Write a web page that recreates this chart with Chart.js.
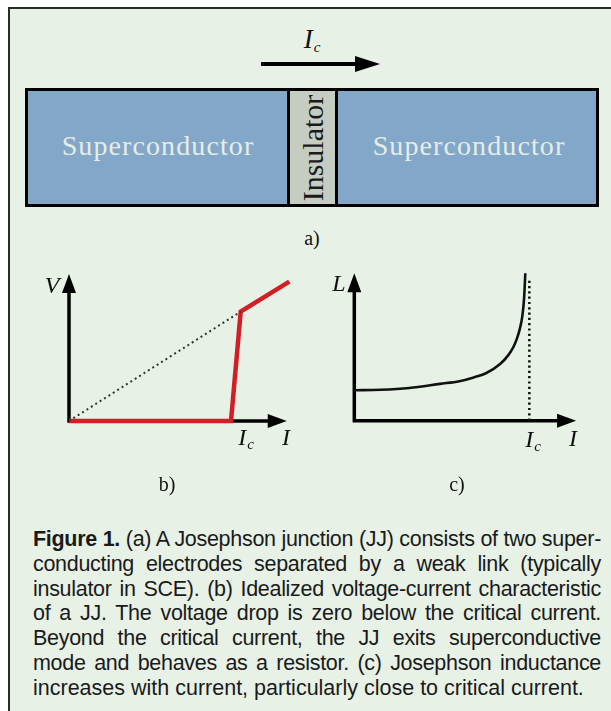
<!DOCTYPE html>
<html lang="en">
<head>
    <meta charset="UTF-8">
    <title>Josephson junction</title>
    <script src="https://cdn.jsdelivr.net/npm/chart.js"></script>
    <style>
        body { margin: 0; width: 611px; height: 711px; overflow: hidden; background: #fff; position: relative; }
        .panel { position: absolute; left: 8px; top: 7px; width: 640px; height: 740px; background: #e7f1e6;
                 border-left: 2px solid #2b2b2b; border-top: 2px solid #2b2b2b; }
        .abs { position: absolute; }
        .junction { position: absolute; left: 25px; top: 88px; width: 574px; height: 119px; box-sizing: border-box;
                    border: 3px solid #000; background: #83a7c8; }
        .insulator { position: absolute; left: 259px; top: 0; width: 51px; height: 113px; box-sizing: border-box;
                     border-left: 3px solid #000; border-right: 3px solid #000; background: #c5cdc2; }
        .sc { position: absolute; top: 41px; font-family: "Liberation Serif", serif; font-size: 28px; letter-spacing: 1.1px;
              color: #e6ede6; line-height: 1; transform: translateX(-50%); white-space: nowrap; }
        .ins { position: absolute; left: 50%; top: 50%; transform: translate(-50%, -50%) rotate(-90deg);
               font-family: "Liberation Serif", serif; font-size: 30px; color: #1a1a1a; line-height: 1; white-space: nowrap; }
        .lab { position: absolute; font-family: "Liberation Serif", serif; font-style: italic; font-size: 24px;
               line-height: 1; transform: translate(-50%, -50%); white-space: nowrap; color: #111; }
        .lab sub { font-size: 15px; vertical-align: -4px; margin-left: 1px; }
        .tag { position: absolute; font-family: "Liberation Serif", serif; font-size: 20px; line-height: 1;
               transform: translate(-50%, -50%); color: #111; }
        .caption { position: absolute; left: 33px; top: 527px; width: 568px; font-family: "Liberation Sans", Arial, sans-serif;
                   font-size: 21.5px; line-height: 24.8px; color: #1a1a1a; }
        .caption div { text-align: justify; text-align-last: justify; white-space: nowrap; letter-spacing: -0.3px; }
        .caption div.last { text-align-last: left; letter-spacing: 0; }
        canvas { position: absolute; }
    </style>
</head>
<body>
<div class="panel"></div>

<!-- (a) junction sketch -->
<div class="abs" style="left:261px; top:62px; width:96px; height:3.5px; background:#000;"></div>
<div class="abs" style="left:355px; top:55.5px; width:0; height:0; border-left:25px solid #000; border-top:8px solid transparent; border-bottom:8px solid transparent;"></div>
<div class="lab" style="left:312px; top:40px; font-size:27px;">I<sub>c</sub></div>
<div class="junction">
    <div class="sc" style="left:130px;">Superconductor</div>
    <div class="sc" style="left:441px;">Superconductor</div>
    <div class="insulator"><div class="ins">Insulator</div></div>
</div>
<div class="tag" style="left:312px; top:238px;">a)</div>

<!-- (b) and (c) -->
<canvas id="chartIV" width="305" height="185" style="left:0; top:250px;"></canvas>
<canvas id="chartL" width="296" height="185" style="left:315px; top:250px;"></canvas>

<div class="lab" style="left:52px; top:285px;">V</div>
<div class="lab" style="left:246px; top:438px;">I<sub>c</sub></div>
<div class="lab" style="left:286px; top:437px;">I</div>
<div class="tag" style="left:167px; top:484px;">b)</div>

<div class="lab" style="left:339px; top:283px;">L</div>
<div class="lab" style="left:533px; top:440px;">I<sub>c</sub></div>
<div class="lab" style="left:573px; top:438px;">I</div>
<div class="tag" style="left:457px; top:484px;">c)</div>

<div class="caption">
    <div><b>Figure 1.</b> (a) A Josephson junction (JJ) consists of two super-</div>
    <div>conducting electrodes separated by a weak link (typically</div>
    <div>insulator in SCE). (b) Idealized voltage-current characteristic</div>
    <div>of a JJ. The voltage drop is zero below the critical current.</div>
    <div>Beyond the critical current, the JJ exits superconductive</div>
    <div>mode and behaves as a resistor. (c) Josephson inductance</div>
    <div class="last">increases with current, particularly close to critical current.</div>
</div>

<script>
    // (b) current in units of Ic, voltage in arbitrary units
    const ivCurrent = [0, 1, 1.06, 1.36];
    const ivVoltage = [0, 0, 0.744, 0.948];
    const ohmicCurrent = [0, 1.06];
    const ohmicVoltage = [0, 0.744];
    const ivAxisEnd = { x: 1.344, y: 1.0 };

    // (c) Josephson inductance vs current
    const lCurrent = [0, 0.15, 0.314, 0.49, 0.6, 0.678, 0.752, 0.833, 0.88, 0.909, 0.93, 0.947, 0.96, 0.97, 0.977];
    const lInductance = [0.207, 0.21, 0.222, 0.25, 0.268, 0.292, 0.322, 0.385, 0.445, 0.5, 0.56, 0.63, 0.71, 0.83, 1.0];
    const criticalCurrent = [1, 1];
    const criticalLevel = [0, 0.97];
    const lAxisEnd = { x: 1.267, y: 1.0 };

    function pts(xs, ys) {
        return xs.map((x, i) => ({ x: x, y: ys[i] }));
    }

    // draws the two axes with arrow heads from the origin of the scales
    const axisArrows = {
        id: 'axisArrows',
        beforeDatasetsDraw(chart, args, opts) {
            const ctx = chart.ctx;
            const sx = chart.scales.x, sy = chart.scales.y;
            const ox = sx.getPixelForValue(0), oy = sy.getPixelForValue(0);
            const tx = sx.getPixelForValue(opts.xEnd), ty = sy.getPixelForValue(opts.yEnd);
            const head = 19, half = 7;
            ctx.save();
            ctx.strokeStyle = '#000';
            ctx.fillStyle = '#000';
            ctx.lineWidth = 3.5;
            ctx.beginPath();
            ctx.moveTo(ox, oy + 1.5);
            ctx.lineTo(ox, ty + head - 1);
            ctx.moveTo(ox - 1.5, oy);
            ctx.lineTo(tx - head + 1, oy);
            ctx.stroke();
            ctx.beginPath();
            ctx.moveTo(ox, ty);
            ctx.lineTo(ox - half, ty + head);
            ctx.lineTo(ox + half, ty + head);
            ctx.closePath();
            ctx.moveTo(tx, oy);
            ctx.lineTo(tx - head, oy - half);
            ctx.lineTo(tx - head, oy + half);
            ctx.closePath();
            ctx.fill();
            ctx.restore();
        }
    };

    function makeChart(id, datasets, xMax, yMax, padding, axisEnd) {
        return new Chart(document.getElementById(id), {
            type: 'scatter',
            data: { datasets: datasets },
            options: {
                responsive: false,
                animation: false,
                events: [],
                layout: { padding: padding },
                plugins: {
                    legend: { display: false },
                    tooltip: { enabled: false },
                    axisArrows: { xEnd: axisEnd.x, yEnd: axisEnd.y }
                },
                elements: { point: { radius: 0 } },
                scales: {
                    x: { type: 'linear', min: 0, max: xMax, display: false },
                    y: { type: 'linear', min: 0, max: yMax, display: false }
                }
            },
            plugins: [axisArrows]
        });
    }

    makeChart('chartIV', [
        {
            data: pts(ohmicCurrent, ohmicVoltage),
            showLine: true, borderColor: '#333', borderWidth: 2, borderDash: [2, 3.2], clip: false
        },
        {
            data: pts(ivCurrent, ivVoltage),
            showLine: true, borderColor: '#d21f26', borderWidth: 4.5, borderJoinStyle: 'miter', clip: false
        }
    ], 1.4, 1.0, { left: 69, right: 9.2, top: 24, bottom: 14 }, ivAxisEnd);

    makeChart('chartL', [
        {
            data: pts(criticalCurrent, criticalLevel),
            showLine: true, borderColor: '#111', borderWidth: 2.5, borderDash: [2.2, 3.1], clip: false
        },
        {
            data: pts(lCurrent, lInductance),
            showLine: true, borderColor: '#111', borderWidth: 2.6, tension: 0.4,
            cubicInterpolationMode: 'monotone', clip: false
        }
    ], 1.35, 1.0, { left: 39.3, right: 20.4, top: 23.3, bottom: 14.3 }, lAxisEnd);
</script>
</body>
</html>
